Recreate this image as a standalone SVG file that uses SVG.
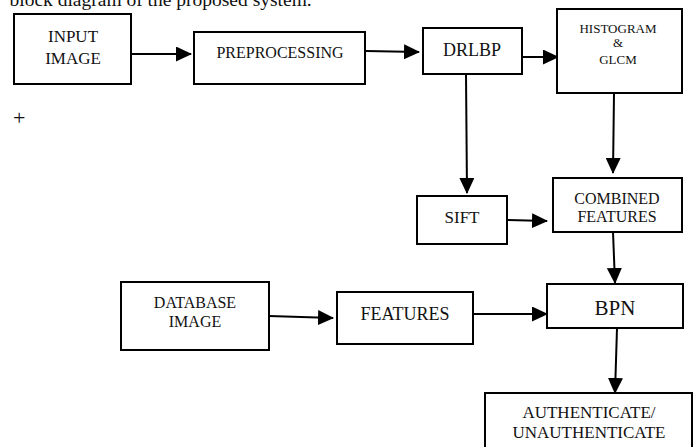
<svg xmlns="http://www.w3.org/2000/svg" width="694" height="447" viewBox="0 0 694 447">
<defs>
<style>
.box{fill:#fff;stroke:#000;stroke-width:2}
.t{font-family:"Liberation Serif","Times New Roman",serif;fill:#111;text-anchor:middle}
.c{stroke:#000;stroke-width:2;fill:none;marker-end:url(#ah)}
</style>
<marker id="ah" viewBox="0 0 16 15" refX="15" refY="7.5" markerWidth="16" markerHeight="15" markerUnits="userSpaceOnUse" orient="auto">
<path d="M0,0 L16,7.5 L0,15 z" fill="#000"/>
</marker>
</defs>
<rect width="694" height="447" fill="#fff"/>
<text x="9.5" y="6" font-family="Liberation Serif, serif" font-size="19.5" fill="#111">block diagram of the proposed system.</text>
<text x="13" y="125" font-family="Liberation Serif, serif" font-size="22" fill="#111">+</text>
<g id="connectors">
<line class="c" x1="131" y1="54" x2="191" y2="54"/>
<line class="c" x1="366" y1="51" x2="419" y2="52"/>
<line class="c" x1="522" y1="57" x2="558" y2="57"/>
<line class="c" x1="466" y1="74" x2="467" y2="193"/>
<line class="c" x1="614" y1="93" x2="613" y2="173"/>
<line class="c" x1="507" y1="220" x2="547" y2="221"/>
<line class="c" x1="613" y1="232" x2="615" y2="283"/>
<line class="c" x1="269" y1="316" x2="333" y2="318"/>
<line class="c" x1="473" y1="314" x2="547" y2="314"/>
<line class="c" x1="617" y1="328" x2="615" y2="393"/>
</g>
<g id="input">
<rect class="box" x="14" y="14" width="117" height="70"/>
<text class="t" x="73" y="42" font-size="17">INPUT</text>
<text class="t" x="73" y="64" font-size="17">IMAGE</text>
</g>
<g id="preprocessing">
<rect class="box" x="194" y="32" width="171" height="52"/>
<text class="t" x="280" y="58" font-size="16">PREPROCESSING</text>
</g>
<g id="drlbp">
<rect class="box" x="423" y="28" width="99" height="46"/>
<text class="t" x="472" y="56" font-size="18">DRLBP</text>
</g>
<g id="histogram">
<rect class="box" x="557" y="9" width="125" height="84"/>
<text class="t" x="618" y="33" font-size="13">HISTOGRAM</text>
<text class="t" x="618" y="47" font-size="13">&amp;</text>
<text class="t" x="618" y="64" font-size="13">GLCM</text>
</g>
<g id="sift">
<rect class="box" x="417" y="196" width="90" height="48"/>
<text class="t" x="462" y="223" font-size="17">SIFT</text>
</g>
<g id="combined">
<rect class="box" x="553" y="178" width="129" height="54"/>
<text class="t" x="617" y="204" font-size="16">COMBINED</text>
<text class="t" x="617" y="222" font-size="16">FEATURES</text>
</g>
<g id="bpn">
<rect class="box" x="547" y="284" width="136" height="44"/>
<text class="t" x="615" y="315" font-size="21">BPN</text>
</g>
<g id="database">
<rect class="box" x="121" y="282" width="148" height="68"/>
<text class="t" x="195" y="308" font-size="16">DATABASE</text>
<text class="t" x="195" y="327" font-size="16">IMAGE</text>
</g>
<g id="features">
<rect class="box" x="337" y="292" width="136" height="52"/>
<text class="t" x="405" y="320" font-size="18">FEATURES</text>
</g>
<g id="auth">
<rect class="box" x="485" y="393" width="207" height="60"/>
<text class="t" x="589" y="418" font-size="17">AUTHENTICATE/</text>
<text class="t" x="589" y="438" font-size="17">UNAUTHENTICATE</text>
</g>
</svg>
